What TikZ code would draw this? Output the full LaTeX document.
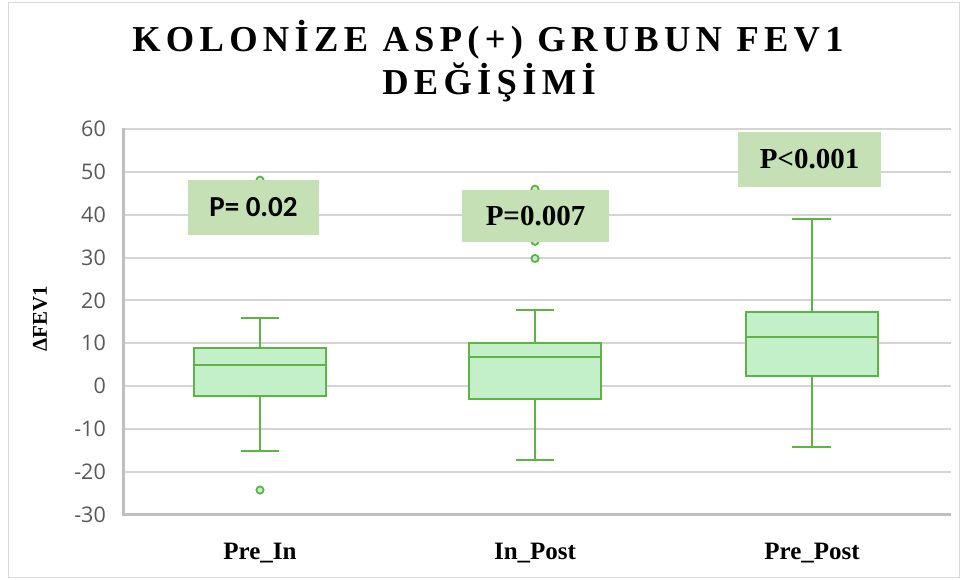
\documentclass[tikz,border=0pt]{standalone}
\usepackage{fontspec}
\setmainfont{Liberation Serif}
\newfontfamily\ticksans{Open Sans}
\newfontfamily\carl{Carlito}
\newfontfamily\titlefont[LetterSpace=14.5]{Liberation Serif}
\definecolor{gridgray}{HTML}{D4D4D4}
\definecolor{axisgray}{HTML}{BFBFBF}
\definecolor{framegray}{HTML}{D9D9D9}
\definecolor{boxfill}{HTML}{C3F0C8}
\definecolor{boxline}{HTML}{5DB346}
\definecolor{pfill}{HTML}{C5E0B4}
\definecolor{ticktext}{HTML}{595959}
\tikzset{
  gridline/.style={draw=gridgray, line width=2pt},
  axisline/.style={draw=axisgray, line width=3pt},
  boxbody/.style={draw=boxline, fill=boxfill, line width=2pt},
  whisk/.style={draw=boxline, line width=2pt},
  outlier/.style={draw=boxline, fill=boxfill, line width=1.8pt},
  pbox/.style={fill=pfill, draw=none, inner sep=0pt},
  ticklab/.style={anchor=east, text=ticktext, font=\ticksans\fontsize{21.5}{24}\selectfont, inner sep=0pt},
  xlab/.style={anchor=base, font=\bfseries\fontsize{25}{28}\selectfont, inner sep=0pt},
  ptext/.style={font=\bfseries\fontsize{29}{32}\selectfont, inner sep=0pt}
}
\begin{document}
\begin{tikzpicture}[x=1pt,y=1pt]
\useasboundingbox (0,0) rectangle (960,-579);
\draw[framegray, line width=1pt] (8,-2) rectangle (959.5,-577);
% title
\node[anchor=base, font=\titlefont\bfseries\fontsize{36.5}{40}\selectfont, inner sep=0pt] (t1) at (488,-51.7) {KOLONİZE ASP(+) GRUBUN FEV1};
\node[anchor=base, font=\titlefont\bfseries\fontsize{36.5}{40}\selectfont, inner sep=0pt] (t2) at (489,-94) {DEĞİŞİMİ};
% y axis title
\node[rotate=90, font=\bfseries\fontsize{21}{24}\selectfont, inner sep=0pt] (ytitle) at (40,-319) {ΔFEV1};
\begin{scope}[shift={(0,-386)}, y=4.28pt]
  % gridlines
  \foreach \v in {60,50,...,-20} {
    \draw[gridline] (123,\v) -- (951,\v);
  }
  \foreach \v in {60,50,...,-30} {
    \node[ticklab] (tick\v) at (106,\v) {\v};
  }
  \draw[axisline] (123,60.3) -- (123,-30) -- (951,-30);
  % box 1: Pre_In
  \draw[whisk] (260,9) -- (260,16);
  \draw[whisk] (241,16) -- (279,16);
  \draw[whisk] (260,-2.4) -- (260,-15.2);
  \draw[whisk] (241,-15.2) -- (279,-15.2);
  \draw[boxbody] (194,-2.4) rectangle (325.5,8.9);
  \draw[whisk] (194,4.9) -- (325.5,4.9);
  \draw[outlier] (260,48.1) circle[radius=3.6pt];
  \draw[outlier] (260,-24.3) circle[radius=3.6pt];
  % box 2: In_Post
  \draw[whisk] (535,10) -- (535,17.8);
  \draw[whisk] (516,17.8) -- (554,17.8);
  \draw[whisk] (535,-3) -- (535,-17.3);
  \draw[whisk] (516,-17.3) -- (554,-17.3);
  \draw[boxbody] (469,-3) rectangle (601,10);
  \draw[whisk] (469,6.8) -- (601,6.8);
  \draw[outlier] (535,46) circle[radius=3.6pt];
  \draw[outlier] (535,33.8) circle[radius=3.6pt];
  \draw[outlier] (535,29.8) circle[radius=3.6pt];
  % box 3: Pre_Post
  \draw[whisk] (812,17.3) -- (812,39);
  \draw[whisk] (792,39) -- (831,39);
  \draw[whisk] (812,2.4) -- (812,-14.3);
  \draw[whisk] (792,-14.3) -- (831,-14.3);
  \draw[boxbody] (746,2.4) rectangle (878,17.3);
  \draw[whisk] (746,11.4) -- (878,11.4);
\end{scope}
% p-value boxes
\node[pbox, minimum width=131pt, minimum height=55pt] (p1) at (253.5,-207.5) {};
\node[ptext, font=\carl\bfseries\fontsize{29}{32}\selectfont] (p1t) at (p1.center) {P= 0.02};
\node[pbox, minimum width=147pt, minimum height=52pt] (p2) at (535.5,-216) {};
\node[ptext] (p2t) at (p2.center) {P=0.007};
\node[pbox, minimum width=143pt, minimum height=55pt] (p3) at (809.5,-159.5) {};
\node[ptext] (p3t) at (p3.center) {P<0.001};
% x labels
\node[xlab] (x1) at (260,-559) {Pre\_In};
\node[xlab] (x2) at (535,-559) {In\_Post};
\node[xlab] (x3) at (812,-559) {Pre\_Post};
\end{tikzpicture}
\end{document}
